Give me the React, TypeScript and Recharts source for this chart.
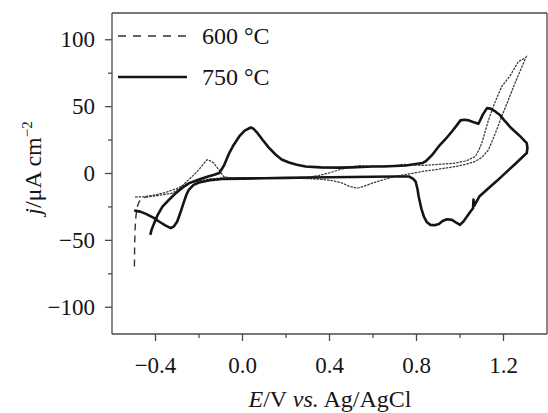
import { LineChart, Line, XAxis, YAxis, ReferenceLine, Legend } from "recharts";

// 750 °C scan, potential (V) and current density (µA cm-2), in scan order
const e750 = [
  -0.498, -0.47, -0.444, -0.41, -0.384, -0.355, -0.33, -0.315, -0.3, -0.285, -0.269, -0.257, -0.247, -0.225, -0.2,
  -0.15, -0.094, 0.0, 0.1, 0.2, 0.3, 0.4, 0.5, 0.6, 0.7, 0.765, 0.785, 0.796, 0.805, 0.81, 0.822, 0.834, 0.848,
  0.864, 0.883, 0.903, 0.92, 0.94, 0.963, 0.985, 1.0, 1.015, 1.032, 1.05, 1.06, 1.062, 1.066, 1.09, 1.131, 1.17,
  1.208, 1.25, 1.285, 1.307, 1.31, 1.307, 1.269, 1.235, 1.208, 1.185, 1.162, 1.14, 1.124, 1.105, 1.085,
  1.06, 1.04, 1.02, 1.002, 0.985, 0.963, 0.935, 0.902, 0.87, 0.845, 0.827, 0.75, 0.65, 0.597, 0.5, 0.443, 0.36,
  0.29, 0.25, 0.214, 0.18, 0.153, 0.12, 0.092, 0.065, 0.05, 0.038, 0.01, -0.015, -0.04, -0.061, -0.085, -0.107,
  -0.13, -0.155, -0.2, -0.245, -0.275, -0.307, -0.34, -0.368, -0.39, -0.406, -0.418, -0.424,
];
const j750 = [
  -27.7, -28.5, -30.2, -33, -35.9, -38.8, -40.9, -39.5, -35.9, -29, -21, -15.5, -12.2, -8.5, -6.7,
  -5, -4, -3.8, -3.5, -3.3, -3, -2.8, -2.6, -2.4, -2.2, -2.2, -4, -6, -12, -17.2, -26, -32.2, -36.5,
  -38.4, -38.6, -37.7, -35.5, -34.2, -34.7, -37, -38.4, -36, -32.2, -28, -26, -19.5, -24, -17, -11, -5.5,
  0.3, 6.5, 12, 15.3, 19, 22.7, 29, 34, 38.9, 43.5, 46.4, 48.5, 48.9, 44, 37.2,
  38.5, 39.7, 40.2, 39.7, 36, 31.4, 26, 20.2, 13.5, 9.5, 7.8, 6, 5.2, 5.2, 4.6, 4.4, 4.6,
  5.2, 6.5, 8.2, 10.5, 14, 19.5, 25.2, 31, 33.5, 34.4, 32, 27.7, 21.5, 15.3, 6, 0.3,
  -1, -2, -4.5, -7.2, -10.5, -14.7, -20, -24.7, -31, -37.1, -42, -45.9,
];

// 600 °C scan: the first steep part, then the rest of the loop
const e600Start = [-0.497, -0.496, -0.494, -0.49, -0.484, -0.475, -0.46, -0.444];
const j600Start = [-69.6, -55, -42, -32, -25, -21, -18.5, -17.7];

const e600 = [
  -0.444, -0.41, -0.37, -0.322, -0.29, -0.26, -0.23, -0.2, -0.18, -0.163, -0.148, -0.132, -0.11, -0.087, -0.06,
  0.0, 0.1, 0.2, 0.3, 0.367, 0.42, 0.459, 0.49, 0.527, 0.56, 0.597, 0.65, 0.703, 0.76, 0.826, 0.9, 0.979,
  1.03, 1.07, 1.1, 1.131, 1.16, 1.192, 1.22, 1.253, 1.28, 1.304, 1.285, 1.269, 1.23, 1.192, 1.16, 1.131,
  1.115, 1.1, 1.085, 1.07, 1.03, 0.979, 0.9, 0.826, 0.74, 0.7, 0.6, 0.54, 0.5, 0.45, 0.4, 0.35, 0.3, 0.2,
  0.0, -0.1, -0.15, -0.2, -0.25, -0.3, -0.35, -0.4, -0.45, -0.498,
];
const j600 = [
  -17.7, -17, -16, -14.7, -11, -6.5, -2, 3, 7, 10.3, 9.5, 7.8, 3, -2.2, -3.2,
  -3.5, -3.5, -3.5, -3.8, -4.4, -5.5, -7.2, -9.5, -11, -9.5, -7.2, -4.5, -2.2, -0.5, 1.5, 3.2, 5.2,
  7, 9, 12, 17.7, 29, 42.7, 54, 67.7, 78, 87.1, 85, 83.8, 73, 65.1, 53, 40,
  31, 22.7, 17, 12.7, 9.5, 7.8, 6.8, 6, 6.8, 5.8, 5.2, 5.8, 5, 3, 0.5, -1.5, -2.8, -3.2,
  -3, -3.5, -4, -5.5, -7.5, -11, -14, -16, -17.3, -17.7,
];

const xTicks = [-0.4, -0.2, 0, 0.2, 0.4, 0.6, 0.8, 1.0, 1.2];
const yTicks = [-100, -75, -50, -25, 0, 25, 50, 75, 100];

const zip = (e: number[], j: number[]) => e.map((v, i) => ({ v, j: j[i] }));
const data750 = zip(e750, j750);
const data600Start = zip(e600Start, j600Start);
const data600 = zip(e600, j600);

const FONT = '"Liberation Serif", "Times New Roman", serif';
const AXIS = "#4a4a4a";
const INK = "#151515";
const TICK = 7;

const minus = (s: string) => s.replace("-", "\u2212");

function XTick(props: any) {
  const { x, y, payload } = props;
  const v = payload.value as number;
  const major = Math.abs(Math.round(v * 10)) % 4 === 0;
  const y0 = y - TICK;
  return (
    <g>
      <line x1={x} x2={x} y1={y0} y2={y0 + (major ? 7 : 4)} stroke={AXIS} strokeWidth={1.3} />
      {major && (
        <text x={x} y={y0 + 39} textAnchor="middle" fontFamily={FONT} fontSize={23} fill={INK}>
          {minus(v.toFixed(1))}
        </text>
      )}
    </g>
  );
}

function YTick(props: any) {
  const { x, y, payload } = props;
  const v = payload.value as number;
  const major = v % 50 === 0;
  const x0 = x + TICK;
  return (
    <g>
      <line x1={x0 - (major ? 7 : 4)} x2={x0} y1={y} y2={y} stroke={AXIS} strokeWidth={1.3} />
      {major && (
        <text x={x0 - 17} y={y + 7.5} textAnchor="end" fontFamily={FONT} fontSize={23} fill={INK}>
          {minus(String(v))}
        </text>
      )}
    </g>
  );
}

function LegendBox() {
  return (
    <svg width={300} height={100} style={{ position: "absolute", left: 0, top: 0 }}>
      <line x1={118} x2={187} y1={36} y2={36} stroke="#333" strokeWidth={1.5} strokeDasharray="8 7" />
      <text x={202} y={44} fontFamily={FONT} fontSize={24} fill={INK}>600 °C</text>
      <line x1={118} x2={187} y1={77} y2={77} stroke={INK} strokeWidth={2.6} />
      <text x={202} y={85} fontFamily={FONT} fontSize={24} fill={INK}>750 °C</text>
    </svg>
  );
}

export default function App() {
  return (
    <div style={{ position: "absolute", left: 0, top: 0, background: "#fff" }}>
      <LineChart width={548} height={413} margin={{ top: 13, right: 1, bottom: 29, left: 52 }}>
        <XAxis
          type="number"
          dataKey="v"
          domain={[-0.6, 1.4]}
          ticks={xTicks}
          interval={0}
          allowDataOverflow
          tickSize={TICK}
          tickMargin={0}
          tickLine={false}
          tick={<XTick />}
          height={50}
          axisLine={{ stroke: AXIS, strokeWidth: 1.3 }}
          label={() => (
            <text x={330} y={407} textAnchor="middle" fontFamily={FONT} fontSize={24} fill={INK}>
              <tspan fontStyle="italic">E</tspan>/V <tspan fontStyle="italic">vs.</tspan> Ag/AgCl
            </text>
          )}
        />
        <YAxis
          type="number"
          dataKey="j"
          domain={[-120, 120]}
          ticks={yTicks}
          interval={0}
          allowDataOverflow
          tickSize={TICK}
          tickMargin={0}
          tickLine={false}
          tick={<YTick />}
          width={60}
          axisLine={{ stroke: AXIS, strokeWidth: 1.3 }}
          label={() => (
            <text
              x={41}
              y={168}
              transform="rotate(-90 41 168)"
              textAnchor="middle"
              fontFamily={FONT}
              fontSize={24}
              fill={INK}
            >
              <tspan fontStyle="italic">j</tspan>/μA cm
              <tspan dy={-9} fontSize={15}>−2</tspan>
            </text>
          )}
        />
        <ReferenceLine y={120} stroke={AXIS} strokeWidth={1.3} />
        <ReferenceLine x={1.4} stroke={AXIS} strokeWidth={1.3} />
        <Legend
          layout="vertical"
          align="center"
          verticalAlign="middle"
          wrapperStyle={{ left: 0, top: 0, width: 300, height: 100 }}
          content={() => <LegendBox />}
        />
        <Line
          data={data600Start}
          dataKey="j"
          type="linear"
          stroke="#333"
          strokeWidth={1.4}
          strokeDasharray="7 5"
          dot={false}
          legendType="none"
          isAnimationActive={false}
        />
        <Line
          data={data600}
          dataKey="j"
          name="600 °C"
          type="linear"
          stroke="#3a3a3a"
          strokeWidth={1.25}
          strokeDasharray="2.5 1"
          dot={false}
          isAnimationActive={false}
        />
        <Line
          data={data750}
          dataKey="j"
          name="750 °C"
          type="linear"
          stroke={INK}
          strokeWidth={2.6}
          strokeLinejoin="round"
          dot={false}
          isAnimationActive={false}
        />
      </LineChart>
    </div>
  );
}
